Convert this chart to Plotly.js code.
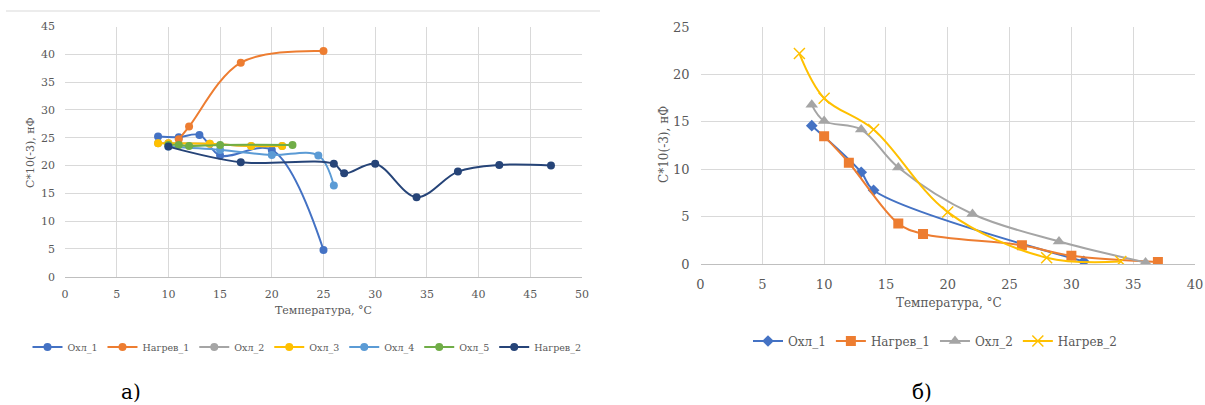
<!DOCTYPE html>
<html>
<head>
<meta charset="utf-8">
<script src="https://cdn.plot.ly/plotly-3.0.1.min.js"></script>
<style>html,body{margin:0;padding:0;background:#fff}#chart{width:1205px;height:405px}</style>
</head>
<body>
<div id="chart"></div>
<script>
// ---- Chart a) data ----
const a_names = ['Охл_1','Нагрев_1','Охл_2','Охл_3','Охл_4','Охл_5','Нагрев_2'];
const a_ohl1_x = [9, 11, 13, 15, 20, 25];
const a_ohl1_y = [25.2, 25.1, 25.5, 21.8, 22.8, 4.8];
const a_nag1_x = [11, 12, 17, 25];
const a_nag1_y = [24.7, 27.0, 38.5, 40.6];
const a_ohl2_x = [9, 10, 14, 18, 21];
const a_ohl2_y = [24.0, 24.0, 23.9, 23.5, 23.5];
const a_ohl3_x = [9, 10, 14, 18, 21];
const a_ohl3_y = [24.0, 24.0, 23.9, 23.5, 23.5];
const a_ohl4_x = [10, 15, 20, 24.5, 26];
const a_ohl4_y = [23.4, 22.8, 21.9, 21.8, 16.4];
const a_ohl5_x = [10, 11, 12, 15, 22];
const a_ohl5_y = [23.7, 23.7, 23.5, 23.7, 23.7];
const a_nag2_x = [10, 17, 26, 27, 30, 34, 38, 42, 47];
const a_nag2_y = [23.4, 20.6, 20.3, 18.6, 20.3, 14.3, 18.9, 20.1, 20.0];

// ---- Chart б) data ----
const b_names = ['Охл_1','Нагрев_1','Охл_2','Нагрев_2'];
const b_ohl1_x = [9, 13, 14, 31];
const b_ohl1_y = [14.6, 9.7, 7.8, 0.3];
const b_nag1_x = [10, 12, 16, 18, 26, 30, 37];
const b_nag1_y = [13.5, 10.7, 4.3, 3.2, 2.0, 0.9, 0.25];
const b_ohl2_x = [9, 10, 13, 16, 22, 29, 36];
const b_ohl2_y = [16.8, 15.1, 14.2, 10.2, 5.3, 2.4, 0.2];
const b_nag2_x = [8, 10, 14, 20, 28, 34];
const b_nag2_y = [22.2, 17.5, 14.2, 5.5, 0.7, 0.3];

const xTitle = 'Температура, °С';
const yTitle = 'C*10(-3), нФ';

const serif = '"DejaVu Serif"';
const aColors = ['#4472C4','#ED7D31','#A5A5A5','#FFC000','#5B9BD5','#70AD47','#264478'];
const bColors = ['#4472C4','#ED7D31','#A5A5A5','#FFC000'];

const aX = [a_ohl1_x,a_nag1_x,a_ohl2_x,a_ohl3_x,a_ohl4_x,a_ohl5_x,a_nag2_x];
const aY = [a_ohl1_y,a_nag1_y,a_ohl2_y,a_ohl3_y,a_ohl4_y,a_ohl5_y,a_nag2_y];
const bX = [b_ohl1_x,b_nag1_x,b_ohl2_x,b_nag2_x];
const bY = [b_ohl1_y,b_nag1_y,b_ohl2_y,b_nag2_y];
const bSymbols = ['diamond','square','triangle-up','x-thin-open'];
const bSizes = [9,10,11,11];

const traces = [];
a_names.forEach((n,i)=>{
  traces.push({
    x: aX[i], y: aY[i], name: n, type:'scatter', mode:'lines+markers',
    xaxis:'x', yaxis:'y', legend:'legend',
    line:{color:aColors[i], width:2, shape:'spline', smoothing:1},
    marker:{color:aColors[i], size:8, symbol:'circle'}
  });
});
b_names.forEach((n,i)=>{
  const isX = bSymbols[i]==='x-thin-open';
  traces.push({
    x: bX[i], y: bY[i], name: n, type:'scatter', mode:'lines+markers',
    xaxis:'x2', yaxis:'y2', legend:'legend2',
    line:{color:bColors[i], width:2, shape:'spline', smoothing:1},
    marker:{color:bColors[i], size:bSizes[i], symbol:bSymbols[i], line: isX ? {color:bColors[i], width:1.5} : {width:0}}
  });
});

const gridC = '#D9D9D9';
const layout = {
  width:1205, height:405,
  margin:{l:0,r:0,t:0,b:0},
  paper_bgcolor:'#fff', plot_bgcolor:'#fff',
  font:{family:serif, color:'#595959'},
  xaxis:{domain:[65/1205, 582/1205], anchor:'y', range:[0,50], dtick:5, showgrid:true, gridcolor:gridC, gridwidth:1,
    zeroline:false, showline:true, linecolor:'#BFBFBF', mirror:false, ticks:'', ticklabelstandoff:7,
    tickfont:{family:serif, size:11, color:'#595959'}, fixedrange:true},
  yaxis:{domain:[128.3/405, 378.5/405], anchor:'x', range:[0,45], dtick:5, showgrid:true, gridcolor:gridC, gridwidth:1,
    zeroline:false, showline:false, ticks:'', ticklabelstandoff:9,
    tickfont:{family:serif, size:11, color:'#595959'}, fixedrange:true},
  xaxis2:{domain:[700.5/1205, 1195/1205], anchor:'y2', range:[0,40], dtick:5, showgrid:true, gridcolor:gridC, gridwidth:1,
    zeroline:false, showline:true, linecolor:'#BFBFBF', ticks:'', ticklabelstandoff:8,
    tickfont:{family:serif, size:13, color:'#595959'}, fixedrange:true},
  yaxis2:{domain:[140.7/405, 378/405], anchor:'x2', range:[0,25], dtick:5, showgrid:true, gridcolor:gridC, gridwidth:1,
    zeroline:false, showline:false, ticks:'', ticklabelstandoff:10,
    tickfont:{family:serif, size:13, color:'#595959'}, fixedrange:true},
  showlegend:true,
  legend:{orientation:'h', x:307/1205, xanchor:'center', y:(405-347)/405, yanchor:'middle',
    font:{family:serif, size:9.5, color:'#595959'}, bgcolor:'rgba(0,0,0,0)', itemwidth:30, tracegroupgap:0},
  legend2:{orientation:'h', x:935/1205, xanchor:'center', y:(405-341)/405, yanchor:'middle',
    font:{family:serif, size:12, color:'#595959'}, bgcolor:'rgba(0,0,0,0)', itemwidth:30},
  shapes:[
    {type:'line', xref:'paper', yref:'paper', x0:6/1205, x1:600/1205, y0:(405-11)/405, y1:(405-11)/405,
     line:{color:'#D9D9D9', width:1}}
  ],
  annotations:[
    {text:xTitle, xref:'paper', yref:'paper', x:323/1205, y:(405-310)/405, showarrow:false,
     font:{family:serif, size:11, color:'#595959'}, xanchor:'center', yanchor:'middle'},
    {text:yTitle, xref:'paper', yref:'paper', x:30/1205, y:(405-152)/405, showarrow:false, textangle:-90,
     font:{family:serif, size:11, color:'#595959'}, xanchor:'center', yanchor:'middle'},
    {text:xTitle, xref:'paper', yref:'paper', x:949/1205, y:(405-303)/405, showarrow:false,
     font:{family:serif, size:12, color:'#595959'}, xanchor:'center', yanchor:'middle'},
    {text:yTitle, xref:'paper', yref:'paper', x:664/1205, y:(405-145)/405, showarrow:false, textangle:-90,
     font:{family:serif, size:12, color:'#595959'}, xanchor:'center', yanchor:'middle'},
    {text:'а)', xref:'paper', yref:'paper', x:131/1205, y:(405-392)/405, showarrow:false,
     font:{family:serif, size:20, color:'#000'}, xanchor:'center', yanchor:'middle'},
    {text:'б)', xref:'paper', yref:'paper', x:922/1205, y:(405-392)/405, showarrow:false,
     font:{family:serif, size:20, color:'#000'}, xanchor:'center', yanchor:'middle'}
  ]
};
Plotly.newPlot('chart', traces, layout, {displayModeBar:false, staticPlot:true});
</script>
</body>
</html>
